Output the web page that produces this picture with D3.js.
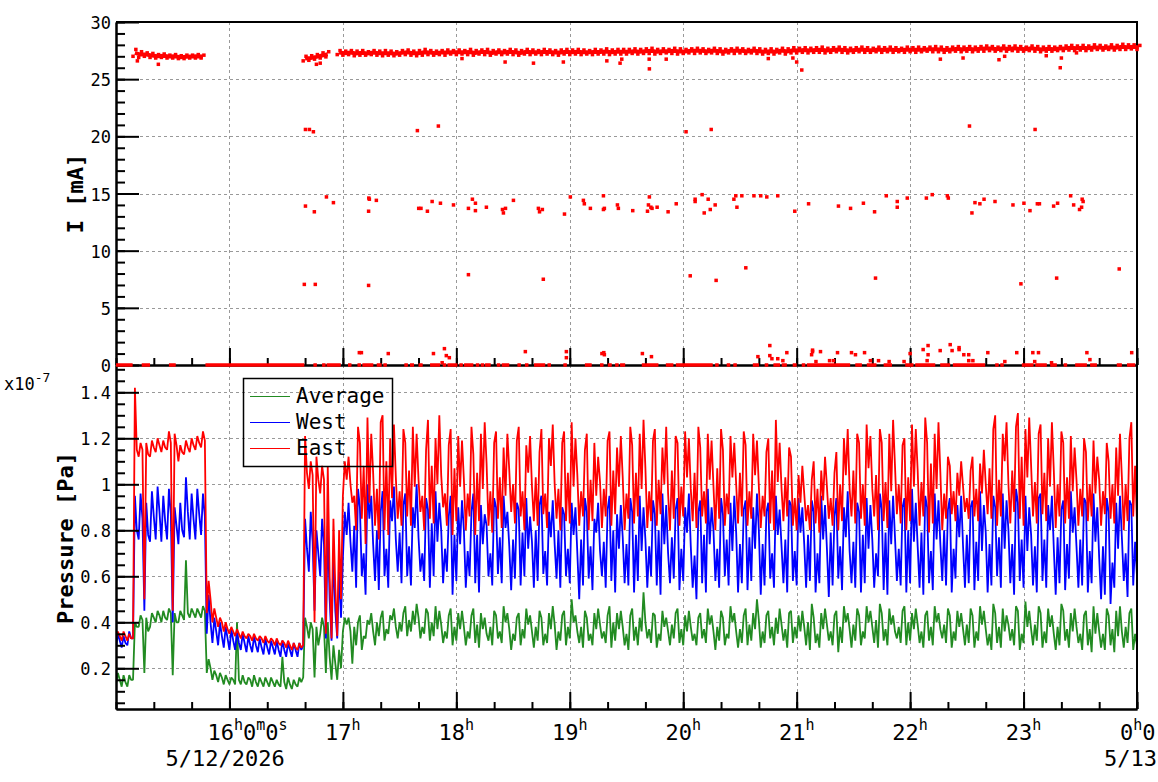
<!DOCTYPE html>
<html>
<head>
<meta charset="utf-8">
<script src="https://cdn.jsdelivr.net/npm/d3@7"></script>
<style>
  body { margin: 0; background: #fff; }
  svg { display: block; font-family: "DejaVu Sans Mono", monospace; }
</style>
</head>
<body>
<svg id="chart" width="1158" height="782"></svg>
<script>
////////////////////////////////////////////////////////////////////////
// Data.
// Time is in minutes after 15:00 on 5/12/2026.
// Pressures are in units of 1e-7 Pa. Each 3 minute bin holds three
// readings: the low, the high and a middle value of that bin.

const binMinutes = 3;
const steadyFrom = 41;   // bins before this hold the slow transitions

const eastLo = [0.33,0.32,0.32,0.33,1.12,0.50,1.12,1.14,1.14,1.15,
  0.45,1.10,1.13,1.14,1.15,1.16,0.44,0.40,0.38,0.36,
  0.35,0.34,0.33,0.33,0.32,0.32,0.31,0.31,0.30,0.30,
  0.29,0.28,0.28,0.30,0.98,0.40,0.96,0.35,0.33,0.34,
  0.95,
  0.92,0.80,0.85,0.74,0.82,0.76,0.80,0.78,0.85,0.82,
  0.86,0.82,0.88,0.80,0.85,0.83,0.90,0.82,0.78,0.84,
  0.80,0.86,0.78,0.84,0.82,0.79,0.85,0.81,0.88,0.83,
  0.86,0.80,0.84,0.82,0.87,0.81,0.85,0.80,0.84,0.83,
  0.82,0.86,0.80,0.84,0.81,0.86,0.82,0.87,0.80,0.85,
  0.83,0.86,0.81,0.84,0.82,0.87,0.80,0.85,0.82,0.86,
  0.84,0.81,0.86,0.83,0.80,0.85,0.82,0.87,0.83,0.86,
  0.82,0.85,0.81,0.86,0.83,0.80,0.84,0.86,0.82,0.80,
  0.84,0.80,0.83,0.79,0.85,0.82,0.80,0.84,0.86,0.83,
  0.85,0.82,0.86,0.80,0.84,0.81,0.87,0.83,0.80,0.84,
  0.82,0.86,0.79,0.83,0.80,0.85,0.87,0.84,0.88,0.85,
  0.86,0.84,0.87,0.85,0.82,0.86,0.83,0.88,0.85,0.82,
  0.86,0.83,0.87,0.84,0.81,0.86,0.83,0.85,0.82,0.86,
  0.84,0.86,0.82,0.87,0.85,0.83,0.80,0.84,0.86,0.83];

const eastHi = [0.36,0.36,0.35,1.42,1.18,1.18,1.19,1.20,1.19,1.23,
  1.22,1.17,1.19,1.20,1.21,1.23,0.58,0.46,0.42,0.40,
  0.38,0.37,0.36,0.35,0.35,0.34,0.34,0.33,0.33,0.32,
  0.32,0.31,0.31,1.21,1.10,1.12,1.08,1.08,0.85,0.80,
  1.10,
  1.12,1.25,1.18,1.29,1.22,1.27,1.30,1.20,1.26,1.24,
  1.18,1.25,1.22,1.15,1.28,1.20,1.30,1.17,1.24,1.21,
  1.19,1.25,1.13,1.22,1.27,1.18,1.23,1.16,1.22,1.19,
  1.25,1.17,1.21,1.14,1.24,1.20,1.26,1.18,1.23,1.27,
  1.20,1.15,1.22,1.18,1.12,1.19,1.23,1.16,1.21,1.25,
  1.17,1.22,1.28,1.19,1.24,1.16,1.25,1.21,1.18,1.23,
  1.20,1.25,1.16,1.22,1.19,1.24,1.15,1.21,1.18,1.23,
  1.17,1.22,1.19,1.14,1.20,1.28,1.18,1.16,1.12,1.04,
  1.08,1.02,1.10,1.06,1.12,1.05,1.14,1.20,1.24,1.22,
  1.18,1.26,1.21,1.24,1.18,1.22,1.28,1.17,1.20,1.26,
  1.24,1.29,1.18,1.22,1.27,1.12,1.08,1.05,1.10,1.06,
  1.12,1.09,1.15,1.24,1.30,1.22,1.27,1.25,1.31,1.24,
  1.29,1.22,1.26,1.20,1.27,1.23,1.18,1.21,1.16,1.20,
  1.14,1.19,1.12,1.18,1.10,1.16,1.22,1.20,1.27,1.23];

const eastMid = [0.34,0.34,0.33,1.15,1.15,1.13,1.16,1.17,1.16,1.18,
  1.17,1.14,1.16,1.17,1.18,1.19,0.50,0.42,0.40,0.37,
  0.36,0.35,0.34,0.34,0.33,0.33,0.32,0.32,0.31,0.31,
  0.30,0.29,0.29,1.05,1.04,1.02,1.02,0.60,0.55,0.50,
  1.02,
  1.00,0.95,1.08,0.92,1.05,0.98,1.10,0.94,1.03,0.97,
  1.06,0.99,1.02,0.95,1.08,1.00,1.04,0.96,1.07,0.99,
  1.02,0.96,1.05,0.98,1.09,0.97,1.03,0.95,1.06,1.00,
  0.97,1.05,0.99,1.03,0.96,1.08,1.00,0.98,1.05,0.99,
  1.04,0.97,1.02,0.95,1.01,0.98,1.06,0.99,1.03,0.96,
  1.05,0.98,1.07,0.97,1.02,1.00,0.96,1.06,0.99,1.03,
  0.98,1.05,0.97,1.02,0.99,1.07,0.96,1.03,1.00,1.05,
  0.97,1.04,0.99,0.95,1.06,1.01,0.98,1.03,0.94,0.92,
  0.96,0.91,0.98,0.93,0.99,0.94,1.00,1.04,0.98,1.06,
  1.00,1.07,0.98,1.04,1.01,0.97,1.08,1.00,1.03,0.99,
  1.06,1.01,1.09,0.98,1.05,0.96,0.97,0.95,0.99,0.94,
  0.98,0.96,1.00,1.07,1.02,1.10,1.00,1.06,1.12,1.03,
  1.08,1.01,1.05,0.99,1.06,1.00,1.03,0.97,1.02,0.98,
  1.00,0.96,1.02,0.97,1.00,0.95,1.03,1.00,1.08,1.05];

const westLo = [0.29,0.29,0.30,0.33,0.76,0.45,0.75,0.76,0.75,0.76,
  0.40,0.74,0.77,0.76,0.76,0.78,0.35,0.31,0.30,0.29,
  0.28,0.28,0.28,0.27,0.27,0.27,0.26,0.26,0.26,0.25,
  0.25,0.25,0.25,0.30,0.62,0.45,0.60,0.33,0.32,0.33,
  0.68,
  0.62,0.55,0.60,0.52,0.58,0.54,0.60,0.55,0.62,0.57,
  0.60,0.56,0.62,0.58,0.55,0.60,0.57,0.62,0.52,0.58,
  0.55,0.60,0.57,0.53,0.60,0.56,0.61,0.57,0.54,0.59,
  0.56,0.60,0.55,0.58,0.61,0.56,0.59,0.55,0.60,0.57,
  0.50,0.56,0.59,0.54,0.60,0.55,0.58,0.53,0.57,0.56,
  0.53,0.58,0.55,0.60,0.56,0.52,0.57,0.59,0.54,0.58,
  0.55,0.50,0.57,0.53,0.58,0.55,0.60,0.56,0.53,0.57,
  0.54,0.58,0.52,0.56,0.59,0.55,0.57,0.53,0.58,0.56,
  0.55,0.58,0.53,0.57,0.51,0.56,0.59,0.54,0.57,0.55,
  0.53,0.57,0.55,0.60,0.54,0.52,0.58,0.56,0.53,0.57,
  0.55,0.52,0.57,0.54,0.58,0.56,0.53,0.59,0.55,0.57,
  0.54,0.58,0.53,0.56,0.60,0.55,0.57,0.52,0.58,0.55,
  0.56,0.53,0.58,0.55,0.52,0.57,0.54,0.59,0.55,0.56,
  0.53,0.57,0.50,0.52,0.48,0.55,0.58,0.51,0.56,0.60];

const westHi = [0.35,0.34,0.36,0.95,0.96,0.92,0.97,0.99,0.95,0.98,
  0.90,0.92,1.03,0.96,0.98,0.96,0.52,0.42,0.40,0.38,
  0.37,0.36,0.35,0.34,0.34,0.33,0.33,0.32,0.32,0.32,
  0.31,0.31,0.31,0.85,0.88,0.80,0.85,0.82,0.70,0.62,
  0.88,
  0.92,0.98,0.90,1.00,0.95,0.88,0.97,0.93,0.99,0.91,
  0.96,0.90,1.00,0.94,0.89,0.97,0.92,0.86,0.95,0.90,
  0.93,0.88,0.96,0.91,0.87,0.94,0.90,0.95,0.88,0.92,
  0.89,0.94,0.86,0.91,0.95,0.88,0.93,0.90,0.87,0.92,
  0.90,0.94,0.88,0.85,0.92,0.89,0.95,0.87,0.91,0.94,
  0.88,0.95,0.90,0.93,0.87,0.96,0.91,0.89,0.94,0.90,
  0.96,0.88,0.93,0.98,0.90,0.94,0.87,0.92,0.95,0.89,
  0.93,0.90,0.96,0.88,0.92,0.95,0.89,0.93,0.91,0.94,
  0.90,0.93,0.88,0.95,0.91,0.86,0.94,0.90,0.97,0.92,
  0.88,0.94,0.91,0.96,0.89,0.93,0.95,0.90,0.94,0.98,
  0.92,0.95,0.90,0.96,0.93,0.89,0.94,0.91,0.95,0.90,
  0.93,0.97,0.91,0.95,0.90,0.96,0.93,0.98,0.92,0.95,
  0.90,0.94,0.96,0.91,0.95,0.89,0.93,0.97,0.90,0.94,
  0.92,0.96,0.90,0.94,0.88,0.92,0.95,0.93,0.91,0.96];

const westMid = [0.32,0.31,0.33,0.80,0.85,0.78,0.86,0.88,0.84,0.87,
  0.82,0.80,0.88,0.85,0.87,0.86,0.40,0.36,0.34,0.33,
  0.32,0.31,0.31,0.30,0.30,0.29,0.29,0.29,0.28,0.28,
  0.28,0.28,0.28,0.72,0.75,0.70,0.74,0.50,0.45,0.42,
  0.78,
  0.75,0.82,0.70,0.85,0.74,0.80,0.72,0.84,0.76,0.79,
  0.73,0.81,0.77,0.70,0.83,0.75,0.80,0.72,0.78,0.74,
  0.80,0.71,0.78,0.74,0.82,0.70,0.77,0.81,0.73,0.76,
  0.79,0.72,0.75,0.80,0.71,0.77,0.74,0.80,0.72,0.78,
  0.70,0.76,0.73,0.79,0.71,0.75,0.80,0.72,0.77,0.74,
  0.78,0.71,0.76,0.73,0.80,0.74,0.70,0.77,0.72,0.79,
  0.73,0.69,0.78,0.74,0.80,0.72,0.76,0.71,0.79,0.74,
  0.77,0.72,0.80,0.74,0.70,0.78,0.73,0.76,0.71,0.79,
  0.74,0.78,0.70,0.76,0.72,0.79,0.73,0.77,0.71,0.75,
  0.78,0.72,0.76,0.70,0.79,0.74,0.77,0.72,0.80,0.75,
  0.73,0.79,0.71,0.76,0.74,0.80,0.72,0.77,0.73,0.78,
  0.75,0.71,0.79,0.74,0.77,0.72,0.80,0.74,0.76,0.71,
  0.78,0.73,0.76,0.80,0.72,0.77,0.74,0.79,0.73,0.76,
  0.71,0.75,0.68,0.73,0.66,0.72,0.77,0.70,0.75,0.78];

const avgLo = [0.13,0.12,0.12,0.15,0.38,0.18,0.38,0.40,0.40,0.41,
  0.17,0.40,0.41,0.42,0.42,0.42,0.18,0.15,0.14,0.13,
  0.13,0.13,0.13,0.13,0.12,0.12,0.12,0.12,0.12,0.12,
  0.11,0.11,0.12,0.16,0.33,0.16,0.35,0.18,0.15,0.15,
  0.36,
  0.22,0.30,0.28,0.33,0.30,0.34,0.32,0.35,0.33,0.36,
  0.34,0.36,0.33,0.35,0.32,0.34,0.31,0.33,0.30,0.32,
  0.30,0.33,0.31,0.29,0.32,0.30,0.33,0.31,0.28,0.32,
  0.30,0.33,0.29,0.32,0.30,0.31,0.28,0.32,0.30,0.33,
  0.31,0.29,0.32,0.30,0.33,0.31,0.29,0.32,0.30,0.28,
  0.32,0.30,0.33,0.31,0.29,0.32,0.30,0.33,0.31,0.30,
  0.32,0.30,0.33,0.31,0.28,0.32,0.30,0.33,0.29,0.31,
  0.30,0.32,0.29,0.31,0.33,0.30,0.32,0.29,0.31,0.33,
  0.30,0.28,0.31,0.29,0.32,0.30,0.27,0.31,0.29,0.32,
  0.30,0.33,0.31,0.29,0.32,0.30,0.33,0.31,0.30,0.32,
  0.31,0.29,0.32,0.30,0.33,0.31,0.29,0.32,0.30,0.31,
  0.29,0.32,0.30,0.28,0.31,0.29,0.32,0.30,0.28,0.31,
  0.30,0.32,0.29,0.31,0.28,0.30,0.32,0.29,0.31,0.28,
  0.30,0.27,0.29,0.28,0.30,0.27,0.29,0.31,0.28,0.30];

const avgHi = [0.18,0.17,0.17,0.40,0.43,0.42,0.44,0.45,0.45,0.46,
  0.44,0.45,0.67,0.46,0.46,0.47,0.24,0.19,0.18,0.17,
  0.16,0.40,0.17,0.16,0.17,0.16,0.16,0.16,0.15,0.25,
  0.16,0.15,0.16,0.42,0.40,0.38,0.42,0.40,0.30,0.28,
  0.42,
  0.42,0.40,0.43,0.41,0.44,0.42,0.45,0.43,0.46,0.44,
  0.47,0.45,0.48,0.46,0.44,0.47,0.45,0.43,0.46,0.44,
  0.45,0.43,0.46,0.44,0.42,0.45,0.43,0.47,0.44,0.42,
  0.44,0.46,0.43,0.45,0.42,0.44,0.47,0.43,0.45,0.50,
  0.43,0.45,0.42,0.44,0.46,0.43,0.47,0.44,0.45,0.43,
  0.46,0.42,0.53,0.44,0.43,0.45,0.42,0.44,0.46,0.43,
  0.45,0.42,0.44,0.46,0.43,0.45,0.42,0.47,0.44,0.43,
  0.46,0.44,0.50,0.43,0.45,0.42,0.46,0.44,0.45,0.43,
  0.45,0.48,0.42,0.44,0.46,0.43,0.45,0.47,0.44,0.46,
  0.43,0.47,0.45,0.48,0.44,0.46,0.43,0.45,0.47,0.44,
  0.46,0.43,0.45,0.47,0.44,0.46,0.43,0.45,0.44,0.46,
  0.43,0.47,0.45,0.48,0.44,0.46,0.43,0.47,0.45,0.49,
  0.45,0.47,0.44,0.46,0.43,0.48,0.45,0.44,0.46,0.43,
  0.45,0.47,0.44,0.46,0.43,0.45,0.47,0.44,0.46,0.45];

const avgMid = [0.15,0.14,0.15,0.38,0.41,0.36,0.42,0.43,0.42,0.44,
  0.40,0.43,0.44,0.44,0.44,0.45,0.20,0.17,0.16,0.15,
  0.15,0.15,0.14,0.15,0.14,0.14,0.14,0.14,0.13,0.14,
  0.13,0.13,0.14,0.38,0.37,0.30,0.38,0.25,0.22,0.20,
  0.39,
  0.36,0.38,0.34,0.39,0.36,0.40,0.37,0.41,0.38,0.40,
  0.41,0.39,0.42,0.38,0.40,0.37,0.39,0.36,0.38,0.37,
  0.38,0.36,0.39,0.37,0.35,0.38,0.36,0.40,0.37,0.35,
  0.37,0.39,0.36,0.38,0.35,0.37,0.39,0.36,0.38,0.40,
  0.36,0.38,0.35,0.37,0.39,0.36,0.40,0.37,0.38,0.35,
  0.38,0.36,0.40,0.37,0.35,0.38,0.36,0.39,0.37,0.36,
  0.38,0.35,0.37,0.39,0.36,0.38,0.35,0.40,0.36,0.37,
  0.39,0.37,0.41,0.36,0.38,0.35,0.39,0.37,0.38,0.36,
  0.38,0.40,0.35,0.37,0.39,0.36,0.38,0.40,0.37,0.39,
  0.36,0.40,0.38,0.41,0.37,0.39,0.36,0.38,0.40,0.37,
  0.39,0.36,0.38,0.40,0.37,0.39,0.36,0.38,0.37,0.39,
  0.36,0.39,0.37,0.35,0.38,0.36,0.39,0.37,0.35,0.38,
  0.37,0.39,0.36,0.38,0.35,0.38,0.37,0.36,0.38,0.35,
  0.37,0.35,0.36,0.35,0.37,0.34,0.36,0.38,0.35,0.37];

// beam current [mA], low / high per 3 minute bin (null = no beam)
const beamHi = [null,null,null,27.6,27.4,27.3,27.25,27.15,27.2,27.1,
  27.15,27.05,27.1,27.1,27.15,27.1,null,null,null,null,
  null,null,null,null,null,null,null,null,null,null,
  null,null,null,27.0,27.05,27.15,27.3,27.4,null,27.5,
  27.45,27.5,27.45,27.5,27.4,27.5,27.45,27.5,27.45,27.4,
  27.5,27.55,27.45,27.5,27.6,27.5,27.45,27.5,27.55,27.5,
  27.55,27.5,27.6,27.5,27.55,27.6,27.5,27.55,27.5,27.6,
  27.55,27.5,27.6,27.55,27.5,27.6,27.55,27.5,27.55,27.6,
  27.55,27.6,27.55,27.5,27.6,27.55,27.65,27.55,27.6,27.6,
  27.6,27.65,27.6,27.65,27.7,27.6,27.65,27.6,27.7,27.65,
  27.6,27.65,27.7,27.65,27.6,27.7,27.65,27.6,27.65,27.7,
  27.65,27.6,27.7,27.65,27.6,27.65,27.6,27.7,27.65,27.75,
  27.7,27.75,27.7,27.75,27.8,27.7,27.75,27.8,27.75,27.7,
  27.75,27.8,27.75,27.7,27.8,27.75,27.8,27.75,27.7,27.8,
  27.75,27.8,27.75,27.8,27.85,27.8,27.75,27.8,27.85,27.8,
  27.85,27.8,27.85,27.9,27.85,27.8,27.9,27.85,27.9,27.85,
  27.8,27.9,27.85,27.8,27.85,27.8,27.85,27.9,27.95,27.9,
  27.95,27.9,28.0,27.95,27.9,28.0,27.95,28.05,28.0,28.0,
  27.95];

const beamLo = [null,null,null,27.0,26.9,27.0,26.9,26.85,26.9,26.85,
  26.85,26.8,26.8,26.85,26.85,26.85,null,null,null,null,
  null,null,null,null,null,null,null,null,null,null,
  null,null,null,26.6,26.65,26.75,26.85,26.95,null,27.15,
  27.1,27.15,27.05,27.1,27.1,27.15,27.1,27.05,27.1,27.05,
  27.1,27.15,27.1,27.05,27.1,27.15,27.1,27.15,27.1,27.2,
  27.15,27.2,27.15,27.1,27.2,27.15,27.1,27.2,27.15,27.2,
  27.15,27.1,27.2,27.15,27.2,27.15,27.2,27.15,27.1,27.2,
  27.15,27.2,27.15,27.2,27.15,27.2,27.2,27.15,27.2,27.2,
  27.2,27.25,27.2,27.25,27.25,27.2,27.25,27.3,27.25,27.2,
  27.25,27.3,27.25,27.3,27.25,27.3,27.25,27.2,27.3,27.25,
  27.3,27.25,27.3,27.25,27.2,27.25,27.2,27.3,27.2,27.3,
  27.3,27.35,27.3,27.35,27.35,27.3,27.35,27.4,27.35,27.3,
  27.35,27.4,27.35,27.35,27.4,27.35,27.4,27.35,27.4,27.35,
  27.4,27.35,27.4,27.45,27.4,27.4,27.35,27.4,27.45,27.4,
  27.45,27.4,27.45,27.45,27.5,27.45,27.5,27.45,27.5,27.45,
  27.45,27.5,27.45,27.4,27.45,27.45,27.5,27.5,27.55,27.5,
  27.55,27.5,27.55,27.6,27.55,27.6,27.55,27.6,27.6,27.65,
  27.6];

// single readings away from the beam band: [minute, mA]
const beamDips = [[11.3,26.6],[22.4,26.3],[106,26.3],[108,26.4],[183,26.8],[205.8,26.5],
  [220.8,26.4],[236.6,26.5],[259.6,26.6],[266.6,26.4],[267.5,26.75],[282.1,25.9],
  [282,26.75],[291,26.75],[345,26.8],[358,26.85],[360,26.5],[362.7,25.8],[436,26.75],
  [448,26.85],[467,26.7],[470,27.0],[492,27.05],[499.4,26.0],[500,26.85],[508,27.3]];

const beamSpikes = [
  [100.2,20.6],[102.3,20.6],[104.4,20.4],[159.4,20.5],[170.5,20.9],[301.5,20.4],
  [314.8,20.6],[451.4,20.9],[486.1,20.6],
  [100.2,13.9],[104.9,13.4],[111.3,14.7],[115,14.2],[133.7,14.6],[134,14.5],[133.6,13.45],
  [137.7,14.4],[160.1,13.7],[161.3,13.7],[164.7,13.45],[167.2,14.3],[171.6,14.15],
  [178.5,14.0],[186.4,13.7],[188.5,14.5],[190.1,14.15],[190.1,13.5],[195.9,13.8],
  [204.4,13.6],[204.9,13.3],[206,13.7],[210.2,14.4],[223.4,13.7],[224,13.4],[225.5,13.6],
  [237.2,13.2],[240.3,14.7],[247.2,14.4],[247.7,14.1],[250.9,13.7],[257.8,14.8],
  [257.8,13.6],[258.3,13.7],[265.2,14.0],[265.7,13.7],[273.3,13.5],[281.1,13.45],
  [281.6,14.0],[282.1,14.7],[282.9,13.8],[283.5,13.7],[286.2,13.8],[292,13.4],
  [296.3,14.1],[306.3,14.5],[306.3,14.3],[310,14.9],[311.1,13.3],[313.2,14.5],
  [314.3,13.6],[316.9,14.0],[326.8,14.5],[327.8,14.8],[328.4,13.8],[331,14.8],
  [337.4,14.8],[341,14.8],[344.2,14.7],[350,14.8],[359,13.45],[366.3,14.1],[382.1,13.9],
  [388.5,13.7],[395.3,14.15],[401.2,13.4],[407.4,14.8],[413.2,14.3],[413.2,13.8],
  [418.5,14.6],[428.6,14.6],[431.7,14.9],[439.7,14.8],[440.2,14.6],[452.7,13.3],
  [454.3,14.2],[456.9,14.1],[459.1,14.5],[464.9,14.3],[474.4,14.0],[480.2,14.15],
  [483.4,13.5],[487.3,14.1],[488.4,14.1],[495.9,13.9],[498,14.15],[504.9,14.8],
  [506.5,14.0],[509.6,13.6],[510.7,13.8],[511,14.5],[511.5,14.3],
  [99.6,7.05],[105.4,7.05],[133.6,6.96],[186.4,7.9],[226,7.5],[303.7,7.8],[317.4,7.4],
  [333.1,8.5],[401.7,7.6],[478.6,7.1],[497.5,7.6],[530.6,8.4],
  [128.7,1.08],[129.8,1.08],[144,1.0],[167.9,1.0],[173.7,1.43],[174.7,0.82],[176.3,0.64],
  [172.5,0.2],[216.5,1.17],[238.2,1.17],[238.2,0.64],[257,1.0],[258,1.08],[258.3,0.9],
  [278.4,1.0],[283.2,0.73],[339.5,0.73],[345.8,1.7],[345.8,0.82],[346.9,0.55],[350,0.55],
  [352.7,0.38],[354.8,1.08],[368.4,1.3],[368.4,1.17],[367.9,0.9],[372.6,1.17],[370.2,0.3],
  [377.4,0.38],[379.5,0.38],[381.6,1.08],[389,1.08],[391.1,0.9],[395.9,1.08],[399,0.38],
  [403.3,0.38],[408.9,0.3],[416.8,0.3],[420,1.0],[426.9,1.35],[429.5,1.7],[429.5,0.9],
  [429,0.38],[435.9,1.26],[441.2,1.78],[442.2,1.26],[445.9,1.52],[445.9,1.35],[448.4,0.9],
  [451,0.9],[451,0.38],[453.2,0.38],[461.1,1.08],[470.1,0.3],[476.4,1.08],[484.9,1.08],
  [487.9,1.08],[485.9,0.3],[494.8,0.2],[513.5,1.08],[515.1,0.47],[537.2,1.08]];

// stretches of minutes where the current reads 0 mA
const zeroRuns = [[0,8.8],[13.6,18],[28,31.6],[47.3,99.6],[104.4,106.2],[109,110.5],
  [111.4,118.9],[122.7,124.1],[127.7,129.1],[130.3,136.1],[137.9,140.5],[141.4,143.2],
  [152.5,153.8],[155.5,157.6],[160,162.2],[166.1,171.4],[172.8,173.7],[175.3,180.6],
  [181.6,182.9],[184.1,189],[190.3,191.7],[192.9,194.3],[195.2,198.2],[201.4,203.1],
  [204,208],[212.3,213.7],[216.3,217.8],[221.1,227],[228.2,229.6],[236.6,237.7],
  [248,251.6],[256,257.8],[260.1,262.2],[264,265.7],[266.6,269.3],[278.1,286.9],
  [290.8,294.8],[296.1,315.6],[316.9,318.6],[323,324.8],[326.5,328.3],[336.8,340.1],
  [343.1,345],[347.7,351.2],[352.1,354.8],[357.9,360],[362.7,364.5],[365.4,388.3],
  [391,394.5],[397.1,402.2],[406,410.4],[417.4,421.8],[422.7,433.3],[435.9,441.2],
  [442.6,459.7],[465,466.8],[467.7,469.4],[479.1,485.3],[486.2,492.3],[494.1,497.6],
  [501.2,502.9],[507.3,513.5],[515.2,518.8],[529.3,532],[534.7,539.1]];

const currentTicks = [0, 5, 10, 15, 20, 25, 30];
const pressureTicks = [0.2, 0.4, 0.6, 0.8, 1, 1.2, 1.4];

////////////////////////////////////////////////////////////////////////
// Scales

const t0 = new Date(2026, 4, 12, 15, 0, 0);
const at = m => new Date(t0.getTime() + m * 60000);

const left = 116, right = 1137;
const top1 = 22, mid = 365, bottom2 = 709;

let x = d3.scaleTime().domain([at(0), at(540)]).range([left, right]);
let yI = d3.scaleLinear().domain([0, 30]).range([mid, top1]);
let yP = d3.scaleLinear().domain([0.023, 1.5187]).range([bottom2, mid]);

let svg = d3.select("#chart");

let hours = d3.timeHour.range(at(60), at(541));
let minors = d3.timeMinute.every(20).range(at(0), at(541));

////////////////////////////////////////////////////////////////////////
// Grids (dashed grey)

function grid(yScale, ticks, y0, y1) {
  let g = svg.append("g")
    .attr("stroke", "#999")
    .attr("stroke-width", 1)
    .attr("stroke-dasharray", "3,3");
  g.selectAll("line.v").data(hours).enter().append("line")
    .attr("x1", d => Math.round(x(d)) + 0.5).attr("x2", d => Math.round(x(d)) + 0.5)
    .attr("y1", y0).attr("y2", y1);
  g.selectAll("line.h").data(ticks).enter().append("line")
    .attr("x1", left).attr("x2", right)
    .attr("y1", d => Math.round(yScale(d)) + 0.5).attr("y2", d => Math.round(yScale(d)) + 0.5);
}
grid(yI, currentTicks.slice(1, -1), top1, mid);
grid(yP, pressureTicks, mid, bottom2);

////////////////////////////////////////////////////////////////////////
// Pressure panel lines

svg.append("clipPath").attr("id", "clipP")
  .append("rect").attr("x", left).attr("y", mid).attr("width", right - left).attr("height", bottom2 - mid);

// place the three readings of a bin one minute apart. During the slow
// transitions the order is low, high, middle; in the steady, noisy part
// the order of the extremes inside a bin is not known from the picture,
// so it is rotated from bin to bin.
const orders = [[0, 1, 2], [1, 2, 0], [2, 0, 1], [1, 0, 2]];

function readings(lo, hi, md) {
  return lo.flatMap((l, i) => {
    let vals = [l, hi[i], md[i]];
    let ord = i < steadyFrom ? orders[0] : orders[i % 4];
    return ord.map((k, j) => ({ t: binMinutes * i + j, v: vals[k] }));
  });
}

let pLine = d3.line().x(d => x(at(d.t))).y(d => yP(d.v));

let series = [
  { name: "Average", color: "#228b22", lo: avgLo, hi: avgHi, md: avgMid },
  { name: "West", color: "#0000ff", lo: westLo, hi: westHi, md: westMid },
  { name: "East", color: "#ff0000", lo: eastLo, hi: eastHi, md: eastMid }
];

svg.append("g").attr("clip-path", "url(#clipP)")
  .selectAll("path").data(series).enter().append("path")
  .attr("d", s => pLine(readings(s.lo, s.hi, s.md)))
  .attr("fill", "none")
  .attr("stroke", s => s.color)
  .attr("stroke-width", 1.8)
  .attr("stroke-linejoin", "bevel");

////////////////////////////////////////////////////////////////////////
// Axes (ticks point inwards, like ROOT)

function styleAxis(g) {
  g.selectAll("path").attr("stroke", "#000").attr("stroke-width", 2);
  g.selectAll("line").attr("stroke", "#000").attr("stroke-width", 2);
  g.selectAll("text").remove();
}

// current panel
svg.append("g").attr("transform", `translate(${left},0)`)
  .call(d3.axisRight(yI).tickValues(d3.range(0, 31)).tickSize(9).tickSizeOuter(0)).call(styleAxis);
svg.append("g").attr("transform", `translate(${left},0)`)
  .call(d3.axisRight(yI).tickValues(currentTicks).tickSize(23).tickSizeOuter(0)).call(styleAxis);
svg.append("g").attr("transform", `translate(0,${mid})`)
  .call(d3.axisTop(x).tickValues(minors).tickSize(7).tickSizeOuter(0)).call(styleAxis);
svg.append("g").attr("transform", `translate(0,${mid})`)
  .call(d3.axisTop(x).tickValues(hours).tickSize(17).tickSizeOuter(0)).call(styleAxis);

// pressure panel
svg.append("g").attr("transform", `translate(${left},0)`)
  .call(d3.axisRight(yP).tickValues(d3.range(1, 31).map(k => k * 0.05)).tickSize(9).tickSizeOuter(0)).call(styleAxis);
svg.append("g").attr("transform", `translate(${left},0)`)
  .call(d3.axisRight(yP).tickValues(pressureTicks).tickSize(23).tickSizeOuter(0)).call(styleAxis);
svg.append("g").attr("transform", `translate(0,${bottom2})`)
  .call(d3.axisTop(x).tickValues(minors).tickSize(7).tickSizeOuter(0)).call(styleAxis);
svg.append("g").attr("transform", `translate(0,${bottom2})`)
  .call(d3.axisTop(x).tickValues(hours).tickSize(17).tickSizeOuter(0)).call(styleAxis);

// frame top and right
svg.append("path")
  .attr("d", `M${left},${top1}H${right}V${bottom2}`)
  .attr("fill", "none").attr("stroke", "#000").attr("stroke-width", 2);

////////////////////////////////////////////////////////////////////////
// Current panel markers

let cur = svg.append("g").attr("fill", "#ff0000");
const sq = 3.5;

cur.selectAll("rect.zero").data(zeroRuns).enter().append("rect")
  .attr("x", d => x(at(d[0])))
  .attr("width", d => Math.max(sq, x(at(d[1])) - x(at(d[0]))))
  .attr("y", yI(0) - sq / 2).attr("height", sq);

// beam band: a thick stroke along the bin centres, markers at low / high
let beamBins = beamLo.map((l, i) => ({ t: binMinutes * i, lo: l, hi: beamHi[i] }));

svg.append("path")
  .attr("d", d3.line()
    .defined(d => d.lo !== null)
    .x(d => x(at(d.t + 1)))
    .y(d => yI((d.lo + d.hi) / 2))(beamBins))
  .attr("fill", "none").attr("stroke", "#ff0000").attr("stroke-width", 4);

let beamPts = beamBins.filter(d => d.lo !== null)
  .flatMap(d => [[d.t, d.lo], [d.t + 1.5, d.hi]]);

cur.selectAll("rect.beam").data(beamPts).enter().append("rect")
  .attr("x", d => x(at(d[0])) - sq / 2).attr("y", d => yI(d[1]) - sq / 2)
  .attr("width", sq).attr("height", sq);

cur.selectAll("rect.spike").data(beamSpikes.concat(beamDips)).enter().append("rect")
  .attr("x", d => x(at(d[0])) - sq / 2).attr("y", d => yI(d[1]) - sq / 2)
  .attr("width", sq).attr("height", sq);

////////////////////////////////////////////////////////////////////////
// Tick labels

svg.append("g").attr("font-size", 17).attr("text-anchor", "end")
  .selectAll("text").data(currentTicks).enter().append("text")
  .attr("x", 111).attr("y", d => yI(d) + 7).text(d => d);

svg.append("g").attr("font-size", 17).attr("text-anchor", "end")
  .selectAll("text").data(pressureTicks).enter().append("text")
  .attr("x", 111).attr("y", d => yP(d) + 7).text(d => d);

let expo = svg.append("text").attr("x", 4).attr("y", 390).attr("font-size", 17).text("x10");
expo.append("tspan").attr("font-size", 13).attr("dy", -8).text("-7");

// hour labels with superscripts
function supLabel(sel, parts) {
  parts.forEach(([s, sup], i) => {
    sel.append("tspan").attr("font-size", 22).attr("dy", i === 0 ? 0 : 10).text(s);
    if (sup) sel.append("tspan").attr("font-size", 15).attr("dy", -10).text(sup);
  });
}

let hourLabels = svg.append("g");
hours.forEach(h => {
  let hr = h.getHours();
  let t;
  if (hr === 16) {
    t = hourLabels.append("text").attr("x", x(h) - 22).attr("y", 740);
    supLabel(t, [["16", "h"], ["0", "m"], ["0", "s"]]);
  } else if (hr === 0) {
    t = hourLabels.append("text").attr("x", x(h) - 17).attr("y", 740);
    supLabel(t, [["0", "h"], ["0", null]]);
  } else {
    t = hourLabels.append("text").attr("x", x(h)).attr("y", 740).attr("text-anchor", "middle");
    supLabel(t, [[String(hr), "h"]]);
  }
});

svg.append("text").attr("x", x(at(60)) - 64).attr("y", 766).attr("font-size", 22).text("5/12/2026");
svg.append("text").attr("x", x(at(540)) - 33).attr("y", 766).attr("font-size", 22).text("5/13");

// axis titles
svg.append("text")
  .attr("transform", `translate(83,${(top1 + mid) / 2}) rotate(-90)`)
  .attr("text-anchor", "middle").attr("font-size", 22).attr("font-weight", "bold")
  .text("I [mA]");

svg.append("text")
  .attr("transform", `translate(73,538) rotate(-90)`)
  .attr("text-anchor", "middle").attr("font-size", 22).attr("font-weight", "bold")
  .text("Pressure [Pa]");

////////////////////////////////////////////////////////////////////////
// Legend (no fill, data shows through)

let legend = svg.append("g");
legend.append("rect")
  .attr("x", 243.5).attr("y", 378.5).attr("width", 149).attr("height", 88)
  .attr("fill", "none").attr("stroke", "#000").attr("stroke-width", 1.5);

series.forEach((s, i) => {
  let yy = 396.5 + i * 26;
  legend.append("line")
    .attr("x1", 250).attr("x2", 290).attr("y1", yy).attr("y2", yy)
    .attr("stroke", s.color).attr("stroke-width", 1.2);
  legend.append("text")
    .attr("x", 296).attr("y", yy + 6).attr("font-size", 21)
    .text(s.name);
});
</script>
</body>
</html>
